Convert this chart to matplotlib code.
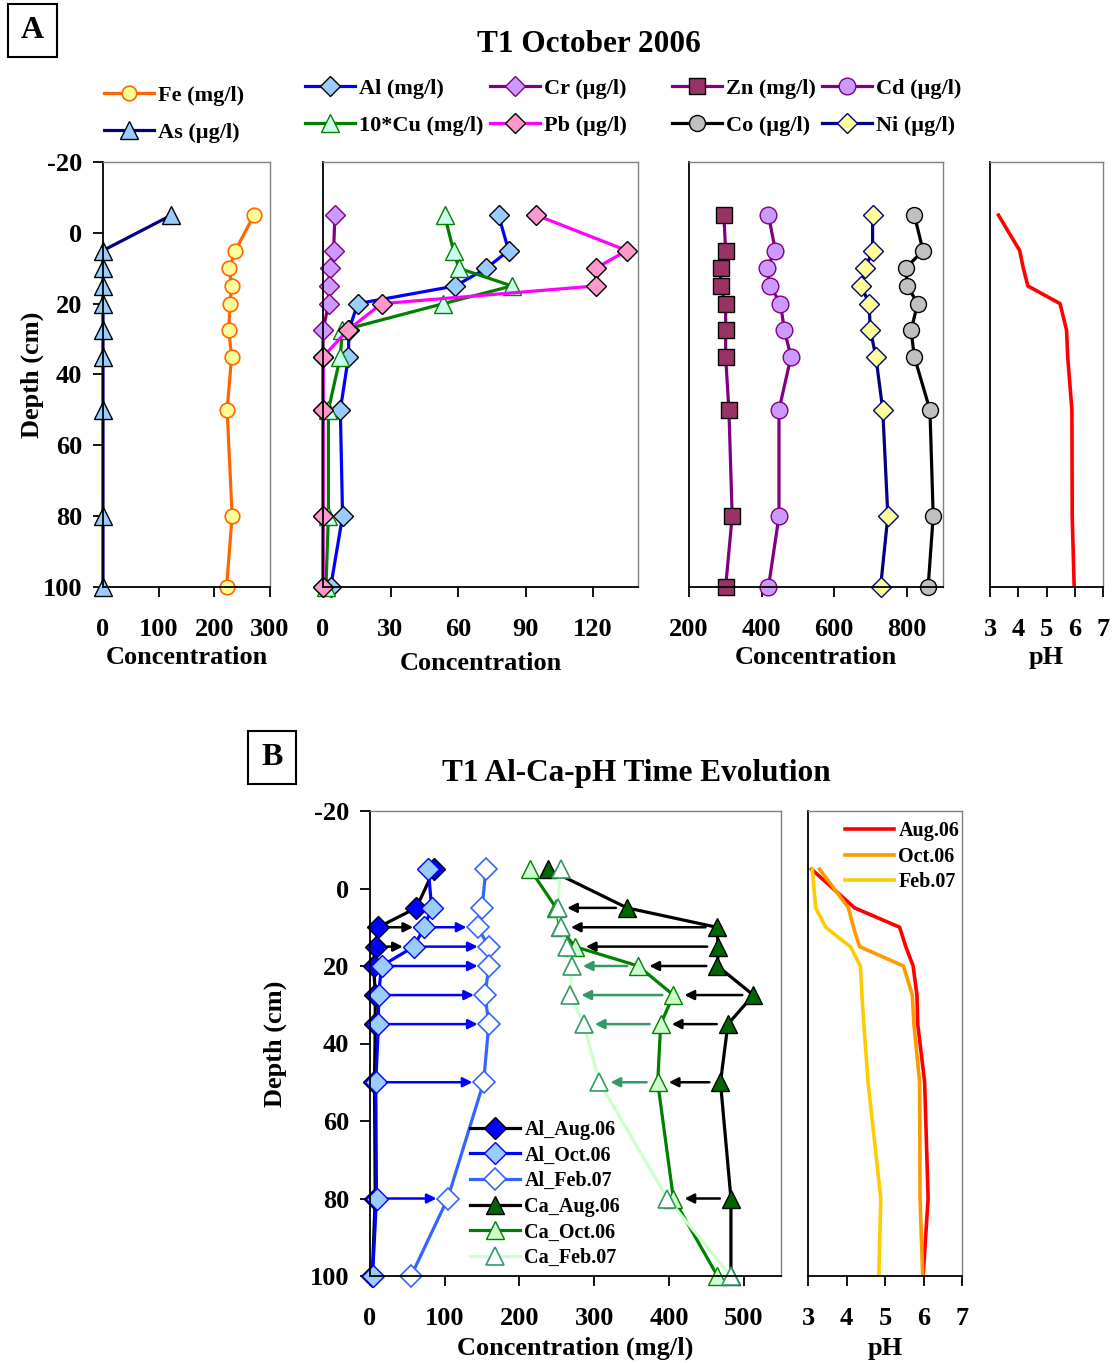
import matplotlib
matplotlib.use("Agg")
import matplotlib.pyplot as plt
from matplotlib.patches import Rectangle

plt.rcParams['font.family'] = ['Liberation Serif', 'DejaVu Serif']
plt.rcParams['font.weight'] = 'bold'
plt.rcParams['axes.labelweight'] = 'bold'
plt.rcParams['axes.unicode_minus'] = False

# ---------------- data ----------------
depth = [-5, 5, 10, 15, 20, 27.5, 35, 50, 80, 100]

# Panel A (T1 October 2006)
fe = [271, 238, 227, 231, 228, 226, 231, 223, 232, 222]          # mg/l
as_ = [123, 0, 0, 0, 0, 0, 0, 0, 0, 0]                           # ug/l
al = [78, 82.5, 72.6, 58.8, 15.4, 11.5, 11.3, 7.7, 8.7, 3.4]     # mg/l
cu10 = [54, 58, 60.4, 84, 53.5, 8.6, 7.7, 2.4, 2.4, 1.3]         # 10*Cu mg/l
cr = [5.3, 4.7, 3.1, 2.5, 2.5, 0, 0, 0, 0, 0]                    # ug/l
pb = [94.8, 135, 121.3, 121.3, 26, 11, 0, 0, 0, 0]               # ug/l
zn = [296, 301, 287, 287, 301, 301, 301, 310, 319, 301]          # mg/l
cd = [419, 438, 414, 424, 452, 463, 481, 448, 448, 419]          # ug/l
co = [821, 845, 797, 802, 830, 812, 821, 864, 873, 859]          # ug/l
ni = [706, 706, 686, 675, 696, 700, 715, 734, 748, 728]          # ug/l
ph_oct = [3.3, 4.05, 4.18, 4.34, 5.48, 5.71, 5.75, 5.9, 5.91, 5.98]

# Panel B (time evolution)
al_aug = [86, 62, 11, 8, 5, 7, 7, 6, 7, 3]
al_oct = al
al_feb = [155, 150, 144, 159, 159, 154, 159, 152, 104, 55]
ca_aug = [238, 344, 464, 466, 465, 513, 479, 469, 483, 483]
ca_oct = [214, 249, 254, 274, 359, 406, 389, 385, 406, 465]
ca_feb = [255, 251, 255, 264, 270, 268, 286, 307, 398, 483]
ph_aug = [3.09, 4.21, 5.38, 5.54, 5.73, 5.83, 5.85, 6.03, 6.12, 5.99]
ph_feb = [3.11, 3.2, 3.46, 4.1, 4.36, 4.4, 4.45, 4.56, 4.89, 4.84]

# arrow depth indices
al_aug_oct_idx = [2, 3]
al_oct_feb_idx = [2, 3, 4, 5, 6, 7, 8]
ca_aug_oct_idx = [1, 2, 3, 4, 5, 6, 7, 8]
ca_oct_feb_idx = [4, 5, 6, 7]

ytick_vals = [-20, 0, 20, 40, 60, 80, 100]

# ---------------- figure ----------------
W, H = 1116, 1363
fig = plt.figure(figsize=(W / 100, H / 100), dpi=100)


def add_ax(l, r, t, b):
    return fig.add_axes([l / W, 1 - b / H, (r - l) / W, (b - t) / H])


def style_ax(ax, xlim, xticks, ylabels=False):
    ax.set_xlim(*xlim)
    ax.set_ylim(100, -20)
    ax.set_xticks(xticks)
    ax.set_yticks(ytick_vals)
    for s in ['top', 'right']:
        ax.spines[s].set_color('#808080')
        ax.spines[s].set_linewidth(1.0)
    for s in ['left', 'bottom']:
        ax.spines[s].set_color('black')
        ax.spines[s].set_linewidth(1.3)
    ax.tick_params(axis='x', direction='out', length=7, width=1.3, labelsize=19, pad=15)
    if ylabels:
        ax.tick_params(axis='y', direction='out', length=7, width=1.3, labelsize=19, pad=8)
    else:
        ax.tick_params(axis='y', left=False, labelleft=False)


LW = 2.3
DMS = 10.5

# ---------- Panel A ----------
top_a, bot_a = 162, 587
ax1 = add_ax(103, 270, top_a, bot_a)
ax2 = add_ax(323, 638, top_a, bot_a)
ax3 = add_ax(689, 943, top_a, bot_a)
ax4 = add_ax(990, 1103, top_a, bot_a)

style_ax(ax1, (0, 300), [0, 100, 200, 300], ylabels=True)
style_ax(ax2, (0, 140), [0, 30, 60, 90, 120])
style_ax(ax3, (200, 900), [200, 400, 600, 800])
style_ax(ax4, (3, 7), [3, 4, 5, 6, 7])

h_fe, = ax1.plot(fe, depth, color='#FF6600', lw=LW, marker='o', ms=10.5,
                 mfc='#FFFF99', mec='#FF6600', mew=1.2, label='Fe (mg/l)', clip_on=False)
h_as, = ax1.plot(as_, depth, color='#000080', lw=LW, marker='^', ms=12.5,
                 mfc='#99CCFF', mec='black', mew=1.0, label='As (\u00b5g/l)', clip_on=False)

h_cr, = ax2.plot(cr, depth, color='#800080', lw=LW, marker='D', ms=DMS,
                 mfc='#CC99FF', mec='#800080', mew=1.0, label='Cr (\u00b5g/l)', clip_on=False)
h_al, = ax2.plot(al, depth, color='#0000FF', lw=LW, marker='D', ms=DMS,
                 mfc='#99CCFF', mec='black', mew=1.0, label='Al (mg/l)', clip_on=False)
h_cu, = ax2.plot(cu10, depth, color='#008000', lw=LW, marker='^', ms=12.5,
                 mfc='#CCFFEE', mec='#008000', mew=1.0, label='10*Cu (mg/l)', clip_on=False)
h_pb, = ax2.plot(pb, depth, color='#FF00FF', lw=LW, marker='D', ms=DMS,
                 mfc='#FF99CC', mec='black', mew=1.0, label='Pb (\u00b5g/l)', clip_on=False)

h_zn, = ax3.plot(zn, depth, color='#800080', lw=LW, marker='s', ms=11,
                 mfc='#993366', mec='black', mew=1.0, label='Zn (mg/l)', clip_on=False)
h_cd, = ax3.plot(cd, depth, color='#800080', lw=LW, marker='o', ms=12,
                 mfc='#CC99FF', mec='#800080', mew=1.0, label='Cd (\u00b5g/l)', clip_on=False)
h_ni, = ax3.plot(ni, depth, color='#000080', lw=LW, marker='D', ms=DMS,
                 mfc='#FFFF99', mec='#000080', mew=1.0, label='Ni (\u00b5g/l)', clip_on=False)
h_co, = ax3.plot(co, depth, color='black', lw=LW, marker='o', ms=11.5,
                 mfc='#C0C0C0', mec='black', mew=1.0, label='Co (\u00b5g/l)', clip_on=False)

ax4.plot(ph_oct, depth, color='#FF0000', lw=2.6)

ax1.set_ylabel('Depth (cm)', fontsize=19, labelpad=-1)
for ax, lp in [(ax1, 4), (ax2, 8), (ax3, 4), (ax4, 4)]:
    ax.set_xlabel('Concentration' if ax is not ax4 else 'pH', fontsize=19, labelpad=lp)

fig.text(589 / W, 1 - 45 / H, 'T1 October 2006', ha='center', va='center', fontsize=22.5, weight='bold')

# legends of panel A
leg_kw = dict(frameon=False, fontsize=16, handlelength=2.25, handletextpad=0.2,
              labelspacing=0.75, borderpad=0, borderaxespad=0, loc='center left')
groups = [([h_fe, h_as], 104, 114), ([h_al, h_cu], 305, 107), ([h_cr, h_pb], 490, 107),
          ([h_zn, h_co], 672, 107), ([h_cd, h_ni], 822, 107)]
for hs, x, yc in groups:
    fig.legend(handles=hs, bbox_to_anchor=(x / W, 1 - yc / H), **leg_kw)

# ---------- Panel B ----------
top_b, bot_b = 811, 1276
bx1 = add_ax(370, 781, top_b, bot_b)
bx2 = add_ax(808, 962, top_b, bot_b)
style_ax(bx1, (0, 550), [0, 100, 200, 300, 400, 500], ylabels=True)
style_ax(bx2, (3, 7), [3, 4, 5, 6, 7])

BMS = 11
b_al_aug, = bx1.plot(al_aug, depth, color='black', lw=LW, marker='D', ms=BMS,
                     mfc='#0000FF', mec='black', mew=1.0, label='Al_Aug.06', clip_on=False)
b_al_oct, = bx1.plot(al_oct, depth, color='#0000FF', lw=LW, marker='D', ms=BMS,
                     mfc='#99CCFF', mec='#0000FF', mew=1.0, label='Al_Oct.06', clip_on=False)
b_al_feb, = bx1.plot(al_feb, depth, color='#3366FF', lw=LW, marker='D', ms=BMS,
                     mfc='white', mec='#3366FF', mew=1.2, label='Al_Feb.07', clip_on=False)
b_ca_aug, = bx1.plot(ca_aug, depth, color='black', lw=LW, marker='^', ms=13.5,
                     mfc='#006600', mec='black', mew=1.0, label='Ca_Aug.06', clip_on=False)
b_ca_oct, = bx1.plot(ca_oct, depth, color='#008000', lw=LW, marker='^', ms=13.5,
                     mfc='#CCFFCC', mec='#008000', mew=1.0, label='Ca_Oct.06', clip_on=False)
b_ca_feb, = bx1.plot(ca_feb, depth, color='#CCFFCC', lw=LW, marker='^', ms=13.5,
                     mfc='white', mec='#339966', mew=1.2, label='Ca_Feb.07', clip_on=False)


def arrows(ax, src, dst, idx, color):
    for i in idx:
        ax.annotate('', xy=(dst[i], depth[i]), xytext=(src[i], depth[i]),
                    arrowprops=dict(arrowstyle='-|>', color=color, lw=1.8,
                                    shrinkA=8, shrinkB=8, mutation_scale=14))


arrows(bx1, al_aug, al_oct, al_aug_oct_idx, 'black')
arrows(bx1, al_oct, al_feb, al_oct_feb_idx, '#0000FF')
arrows(bx1, ca_aug, ca_oct, ca_aug_oct_idx, 'black')
arrows(bx1, ca_oct, ca_feb, ca_oct_feb_idx, '#339966')

bx1.legend(handles=[b_al_aug, b_al_oct, b_al_feb, b_ca_aug, b_ca_oct, b_ca_feb],
           loc='center left', bbox_to_anchor=(470 / W, 1 - 1194 / H),
           bbox_transform=fig.transFigure, frameon=False, fontsize=14.5,
           handlelength=2.5, handletextpad=0.2, labelspacing=0.28,
           borderpad=0, borderaxespad=0)

p1, = bx2.plot(ph_aug, depth, color='#FF0000', lw=2.6, label='Aug.06')
p2, = bx2.plot(ph_oct, depth, color='#FF9900', lw=2.6, label='Oct.06')
p3, = bx2.plot(ph_feb, depth, color='#FFCC00', lw=2.6, label='Feb.07')
lg = bx2.legend(handles=[p1, p2, p3], loc='upper left', bbox_to_anchor=(843 / W, 1 - 819 / H),
                bbox_transform=fig.transFigure, frameon=True, fancybox=False,
                facecolor='white', edgecolor='none', framealpha=1, fontsize=14.5,
                handlelength=2.45, handletextpad=0.2, labelspacing=0.28,
                borderpad=0.1, borderaxespad=0)

bx1.set_ylabel('Depth (cm)', fontsize=19, labelpad=16)
bx1.set_xlabel('Concentration (mg/l)', fontsize=19, labelpad=5)
bx2.set_xlabel('pH', fontsize=19, labelpad=5)

fig.text(636 / W, 1 - 773 / H, 'T1 Al-Ca-pH Time Evolution', ha='center', va='center',
         fontsize=22.5, weight='bold')

# panel letter boxes
for (x0, y0, x1, y1, letter) in [(8, 4, 57, 57, 'A'), (248, 731, 296, 784, 'B')]:
    fig.patches.append(Rectangle((x0 / W, 1 - y1 / H), (x1 - x0) / W, (y1 - y0) / H,
                                 transform=fig.transFigure, fill=False, ec='black', lw=1.5))
    fig.text((x0 + x1) / 2 / W, 1 - (y0 + y1) / 2 / H, letter, ha='center', va='center',
             fontsize=23, weight='bold')

fig.savefig('out.png', dpi=100)
